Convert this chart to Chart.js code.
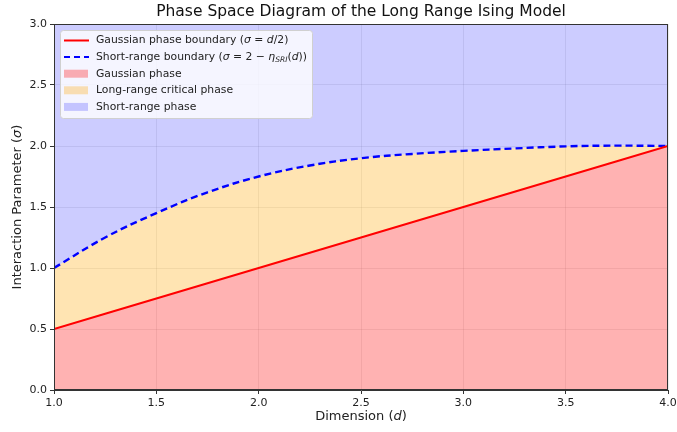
<!DOCTYPE html>
<html lang="en">
<head>
<meta charset="UTF-8">
<title>Phase Space Diagram of the Long Range Ising Model</title>
<script src="https://cdn.jsdelivr.net/npm/chart.js@4.4.0/dist/chart.umd.min.js"></script>
<style>
  body { margin: 0; background: #fff; }
</style>
</head>
<body>
<canvas id="chart" width="677" height="432"></canvas>
<script>
// dimension grid and the two boundaries
const dims = [1.0, 1.25, 1.5, 1.75, 2.0, 2.25, 2.5, 2.75, 3.0, 3.25, 3.5, 3.75, 4.0];
const gaussianBoundary = [0.5, 0.625, 0.75, 0.875, 1.0, 1.125, 1.25, 1.375, 1.5, 1.625, 1.75, 1.875, 2.0];
const shortRangeBoundary = [1.0, 1.25, 1.45, 1.62, 1.75, 1.84, 1.90, 1.935, 1.96, 1.98, 1.997, 2.003, 2.0];
const xTicks = [1.0, 1.5, 2.0, 2.5, 3.0, 3.5, 4.0];
const yTicks = [0.0, 0.5, 1.0, 1.5, 2.0, 2.5, 3.0];

const titleText = 'Phase Space Diagram of the Long Range Ising Model';
const xTitle = [{ t: 'Dimension (' }, { t: 'd', it: true }, { t: ')' }];
const yTitle = [{ t: 'Interaction Parameter (' }, { t: 'σ', it: true }, { t: ')' }];

const legendItems = [
  { kind: 'line', color: '#ff0000', segs: [{ t: 'Gaussian phase boundary (' }, { t: 'σ', it: true }, { t: ' = ' }, { t: 'd', it: true }, { t: '/2)' }] },
  { kind: 'dash', color: '#0000ff', segs: [{ t: 'Short-range boundary (' }, { t: 'σ', it: true }, { t: ' = 2 − ' }, { t: 'η', it: true }, { t: 'SRI', it: true, sub: true }, { t: '(' }, { t: 'd', it: true }, { t: '))' }] },
  { kind: 'patch', color: 'rgba(255,0,0,0.3)', segs: [{ t: 'Gaussian phase' }] },
  { kind: 'patch', color: 'rgba(255,165,0,0.3)', segs: [{ t: 'Long-range critical phase' }] },
  { kind: 'patch', color: 'rgba(0,0,255,0.2)', segs: [{ t: 'Short-range phase' }] }
];

const font = '"DejaVu Sans", sans-serif';
const pts = arr => dims.map((d, i) => ({ x: d, y: arr[i] }));

function drawRich(ctx, segs, x, y, size, align) {
  let total = 0;
  const parts = segs.map(s => {
    const sz = s.sub ? size * 0.7 : size;
    const f = (s.it ? 'italic ' : '') + sz + 'px ' + font;
    ctx.font = f;
    const w = ctx.measureText(s.t).width;
    total += w;
    return { s, f, w };
  });
  let cx = align === 'center' ? x - total / 2 : x;
  ctx.textAlign = 'left';
  ctx.textBaseline = 'middle';
  parts.forEach(p => {
    ctx.font = p.f;
    ctx.fillText(p.s.t, cx, y + (p.s.sub ? size * 0.3 : 0));
    cx += p.w;
  });
}

const decor = {
  id: 'decor',
  afterDraw(chart) {
    const ctx = chart.ctx;
    const a = chart.chartArea;
    ctx.save();
    // frame
    ctx.strokeStyle = '#333';
    ctx.lineWidth = 1;
    ctx.strokeRect(a.left + 0.5, a.top + 0.5, a.right - a.left - 1, a.bottom - a.top - 1);
    ctx.fillStyle = '#111';
    // title
    ctx.font = '15.5px ' + font;
    ctx.textAlign = 'center';
    ctx.textBaseline = 'middle';
    ctx.fillText(titleText, (a.left + a.right) / 2, 12);
    // axis titles
    ctx.fillStyle = '#222';
    drawRich(ctx, xTitle, (a.left + a.right) / 2, 417, 13, 'center');
    ctx.save();
    ctx.translate(18, (a.top + a.bottom) / 2);
    ctx.rotate(-Math.PI / 2);
    drawRich(ctx, yTitle, 0, 0, 13, 'center');
    ctx.restore();
    // legend box
    const bx = a.left + 6, by = a.top + 6, bw = 252, bh = 88;
    ctx.beginPath();
    ctx.roundRect(bx + 0.5, by + 0.5, bw, bh, 3);
    ctx.fillStyle = 'rgba(255,255,255,0.8)';
    ctx.fill();
    ctx.strokeStyle = '#d0d0d0';
    ctx.stroke();
    legendItems.forEach((it, i) => {
      const y = by + 10.5 + i * 16.6;
      const hx = bx + 4;
      if (it.kind === 'patch') {
        ctx.fillStyle = it.color;
        ctx.fillRect(hx, y - 4, 24, 8);
      } else {
        ctx.beginPath();
        ctx.strokeStyle = it.color;
        ctx.lineWidth = 2;
        ctx.setLineDash(it.kind === 'dash' ? [6, 4] : []);
        ctx.moveTo(hx, y);
        ctx.lineTo(hx + 25, y);
        ctx.stroke();
        ctx.setLineDash([]);
      }
      ctx.fillStyle = '#222';
      drawRich(ctx, it.segs, hx + 32, y, 10.8, 'left');
    });
    ctx.restore();
  }
};

const axisCommon = {
  type: 'linear',
  ticks: {
    autoSkip: false,
    color: '#222',
    padding: 3,
    font: { family: font, size: 11 },
    callback: v => Number(v).toFixed(1)
  },
  grid: { color: 'rgba(128,128,128,0.15)', tickColor: '#333', tickLength: 4 },
  border: { display: true, color: '#333' }
};

new Chart(document.getElementById('chart'), {
  type: 'line',
  data: {
    datasets: [
      { label: 'Gaussian phase boundary', data: pts(gaussianBoundary), borderColor: '#ff0000', borderWidth: 2, pointRadius: 0, fill: false },
      { label: 'Short-range boundary', data: pts(shortRangeBoundary), borderColor: '#0000ff', borderWidth: 2.4, borderDash: [7, 4], pointRadius: 0, tension: 0.4, fill: false },
      { label: 'Gaussian phase', data: pts(gaussianBoundary), borderWidth: 0, borderColor: 'transparent', pointRadius: 0, backgroundColor: 'rgba(255,0,0,0.3)', fill: 'origin' },
      { label: 'Long-range critical phase', data: pts(shortRangeBoundary), borderWidth: 0, borderColor: 'transparent', pointRadius: 0, tension: 0.4, backgroundColor: 'rgba(255,165,0,0.3)', fill: 2 },
      { label: 'Short-range phase', data: pts(shortRangeBoundary), borderWidth: 0, borderColor: 'transparent', pointRadius: 0, tension: 0.4, backgroundColor: 'rgba(0,0,255,0.2)', fill: 'end' }
    ]
  },
  options: {
    responsive: false,
    animation: false,
    layout: { padding: { top: 24, right: 9, left: 0, bottom: 0 } },
    plugins: {
      legend: { display: false },
      tooltip: { enabled: false },
      filler: { drawTime: 'beforeDatasetsDraw' }
    },
    scales: {
      x: {
        ...axisCommon,
        min: 1, max: 4,
        afterBuildTicks: s => { s.ticks = xTicks.map(v => ({ value: v })); },
        afterFit: s => { s.height = 42; s.paddingRight = 0; s.paddingLeft = 0; }
      },
      y: {
        ...axisCommon,
        min: 0, max: 3,
        afterBuildTicks: s => { s.ticks = yTicks.map(v => ({ value: v })); },
        afterFit: s => { s.width = 54; s.paddingTop = 0; s.paddingBottom = 0; }
      }
    }
  },
  plugins: [decor]
});
</script>
</body>
</html>
